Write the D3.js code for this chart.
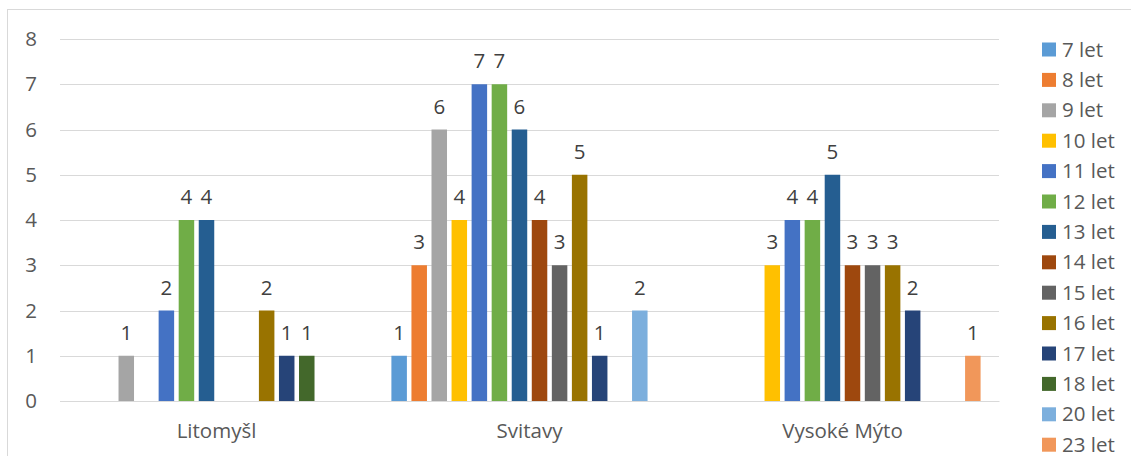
<!DOCTYPE html>
<html lang="cs">
<head>
<meta charset="utf-8">
<title>Věk podle města</title>
<script src="https://d3js.org/d3.v7.min.js"></script>
<style>
  body { margin: 0; background: #fff; }
  svg { display: block; font-family: "Open Sans", sans-serif; }
</style>
</head>
<body>
<script>
// data
const categories = ["Litomyšl", "Svitavy", "Vysoké Mýto"];
const seriesNames = ["7 let", "8 let", "9 let", "10 let", "11 let", "12 let", "13 let",
                     "14 let", "15 let", "16 let", "17 let", "18 let", "20 let", "23 let"];
const litomysl   = [0, 0, 1, 0, 2, 4, 4, 0, 0, 2, 1, 1, 0, 0];
const svitavy    = [1, 3, 6, 4, 7, 7, 6, 4, 3, 5, 1, 0, 2, 0];
const vysokeMyto = [0, 0, 0, 3, 4, 4, 5, 3, 3, 3, 2, 0, 0, 1];
const yTicks = [0, 1, 2, 3, 4, 5, 6, 7, 8];
const colors = ["#5B9BD5", "#ED7D31", "#A5A5A5", "#FFC000", "#4472C4", "#70AD47", "#255E91",
                "#9E480E", "#636363", "#997300", "#264478", "#43682B", "#7CAFDD", "#F1975A"];

const width = 1131, height = 456;
const plotLeft = 60, plotRight = 999, plotTop = 39, plotBottom = 401;
const fontSize = "20.5px";

const valuesByCat = [litomysl, svitavy, vysokeMyto];

const svg = d3.select("body").append("svg")
  .attr("width", width)
  .attr("height", height)
  .attr("viewBox", [0, 0, width, height]);

// chart border (cut off at right and bottom)
svg.append("rect")
  .attr("x", 7.5).attr("y", 9.5)
  .attr("width", 1300).attr("height", 600)
  .attr("fill", "none")
  .attr("stroke", "#d9d9d9");

const x0 = d3.scaleBand()
  .domain(categories)
  .range([plotLeft, plotRight])
  .paddingInner(0.103)
  .paddingOuter(0.0516);

const x1 = d3.scaleBand()
  .domain(seriesNames)
  .range([0, x0.bandwidth()])
  .paddingInner(0.227)
  .paddingOuter(0.113);

const y = d3.scaleLinear()
  .domain([0, 8])
  .range([plotBottom, plotTop]);

const color = d3.scaleOrdinal().domain(seriesNames).range(colors);

// gridlines + y labels
const yAxis = svg.append("g")
  .attr("transform", `translate(${plotLeft},0)`)
  .call(d3.axisLeft(y).tickValues(yTicks).tickSize(-(plotRight - plotLeft)).tickPadding(23))
  .call(g => g.select(".domain").remove());
yAxis.selectAll(".tick line").attr("stroke", "#d9d9d9").attr("shape-rendering", "crispEdges");
yAxis.selectAll(".tick text")
  .attr("fill", "#595959")
  .style("font-size", fontSize)
  .style("font-family", "'Open Sans', sans-serif");

// bars
const rows = categories.map((c, i) => ({ cat: c, vals: valuesByCat[i] }));
const groups = svg.append("g")
  .selectAll("g")
  .data(rows)
  .join("g")
  .attr("transform", d => `translate(${x0(d.cat)},0)`);

const cells = groups.selectAll("g")
  .data(d => seriesNames.map((s, j) => ({ s, v: d.vals[j] })).filter(e => e.v > 0))
  .join("g");

cells.append("rect")
  .attr("x", d => x1(d.s))
  .attr("y", d => y(d.v))
  .attr("width", x1.bandwidth())
  .attr("height", d => y(0) - y(d.v))
  .attr("fill", d => color(d.s));

cells.append("text")
  .attr("x", d => x1(d.s) + x1.bandwidth() / 2)
  .attr("y", d => y(d.v) - 16)
  .attr("text-anchor", "middle")
  .attr("fill", "#404040")
  .style("font-size", fontSize)
  .text(d => d.v);

// x axis line + category labels
const xAxis = svg.append("g")
  .attr("transform", `translate(0,${plotBottom})`)
  .call(d3.axisBottom(x0).tickSize(0).tickPadding(22));
xAxis.select(".domain").attr("stroke", "#d9d9d9");
xAxis.selectAll(".tick text")
  .attr("fill", "#595959")
  .style("font-size", fontSize)
  .style("font-family", "'Open Sans', sans-serif");

// legend
const legend = svg.append("g")
  .selectAll("g")
  .data(seriesNames)
  .join("g")
  .attr("transform", (d, i) => `translate(1042,${49.5 + i * 30.4})`);

legend.append("rect")
  .attr("x", 0).attr("y", -7)
  .attr("width", 14).attr("height", 14)
  .attr("fill", d => color(d));

legend.append("text")
  .attr("x", 20)
  .attr("dy", "0.35em")
  .attr("fill", "#595959")
  .style("font-size", fontSize)
  .text(d => d);
</script>
</body>
</html>
